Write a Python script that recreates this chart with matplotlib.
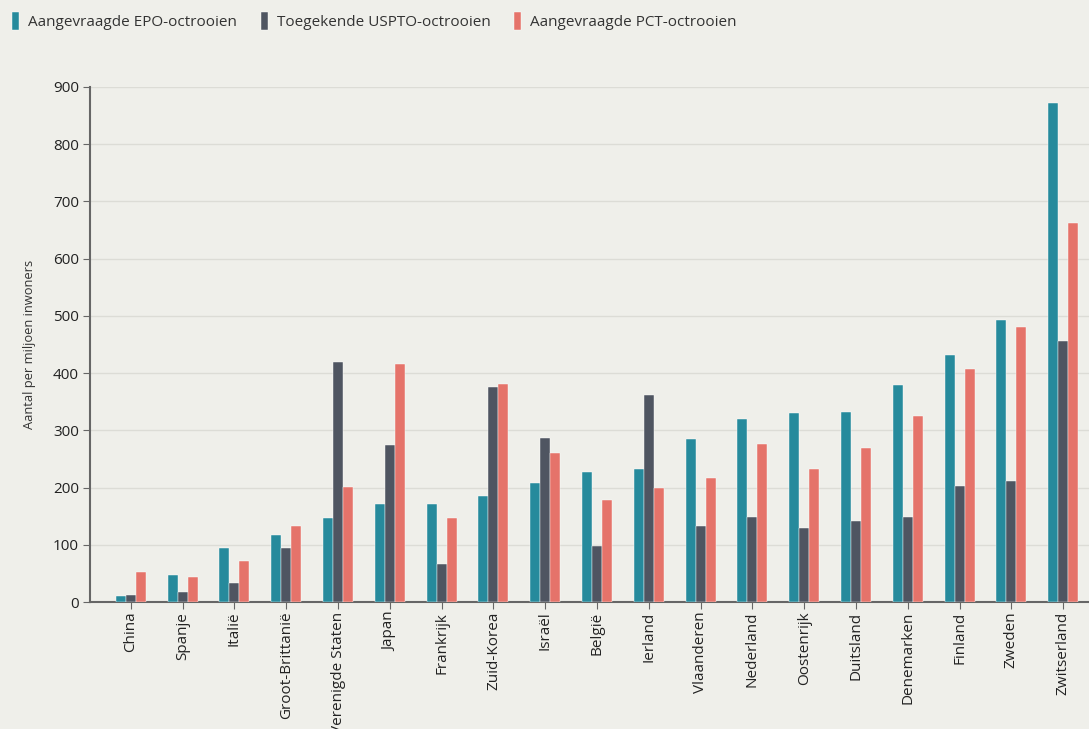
import matplotlib.pyplot as plt
import numpy as np

landen = ['China', 'Spanje', 'Italië', 'Groot-Brittanië', 'Verenigde Staten', 'Japan',
          'Frankrijk', 'Zuid-Korea', 'Israël', 'België', 'Ierland', 'Vlaanderen',
          'Nederland', 'Oostenrijk', 'Duitsland', 'Denemarken', 'Finland', 'Zweden',
          'Zwitserland']
epo = [10, 48, 94, 117, 146, 171, 171, 185, 208, 228, 232, 284, 319, 330, 332, 379, 431, 493, 872]
uspto = [13, 18, 34, 94, 419, 274, 66, 376, 287, 98, 361, 133, 149, 130, 142, 149, 203, 211, 456]
pct = [52, 44, 71, 132, 201, 416, 146, 381, 260, 179, 199, 216, 276, 232, 270, 325, 407, 481, 662]
reeksen = ['Aangevraagde EPO-octrooien', 'Toegekende USPTO-octrooien', 'Aangevraagde PCT-octrooien']

bg = '#efefea'
colors = ['#268a9c', '#4f5561', '#e5736a']

plt.rcParams['font.family'] = ['Open Sans', 'DejaVu Sans']

fig = plt.figure(figsize=(10.89, 7.29), dpi=100, facecolor=bg)
ax = fig.add_axes([90/1089, 127/729, 1 - 90/1089, 515/729], facecolor=bg)

x = np.arange(len(landen))
w = 0.193
for i, (vals, lab) in enumerate(zip([epo, uspto, pct], reeksen)):
    ax.bar(x + (i - 1) * w, vals, width=w, color=colors[i], label=lab,
           edgecolor='white', linewidth=0.3, zorder=3)

ax.set_xlim(-0.79, len(landen) - 0.5)
ax.set_ylim(0, 900)
ax.set_yticks(range(0, 901, 100))
ax.yaxis.grid(True, color='#dcdcd6', linewidth=1, zorder=0)
ax.set_xticks(x)
# 'Verenigde Staten' loopt onderaan net als in het origineel deels buiten beeld
ax.set_xticklabels(landen, rotation=90, fontsize=11, color='#222222')
ax.tick_params(axis='y', labelsize=11, colors='#222222', length=5, color='#666666', pad=3)
ax.tick_params(axis='x', length=5, color='#666666', pad=2)
for s in ['top', 'right']:
    ax.spines[s].set_visible(False)
for s in ['left', 'bottom']:
    ax.spines[s].set_color('#666666')
    ax.spines[s].set_linewidth(1.5)
ax.set_ylabel('Aantal per miljoen inwoners', fontsize=9.3, color='#333333', labelpad=12)

leg = fig.legend(loc='upper left', bbox_to_anchor=(0.0, 1.0), ncol=3, frameon=False,
                 fontsize=11, handlelength=0.45, handleheight=1.4, handletextpad=0.6,
                 columnspacing=1.55, borderaxespad=0.4)
for t in leg.get_texts():
    t.set_color('#333333')

fig.savefig('out.png', dpi=100, facecolor=bg)
